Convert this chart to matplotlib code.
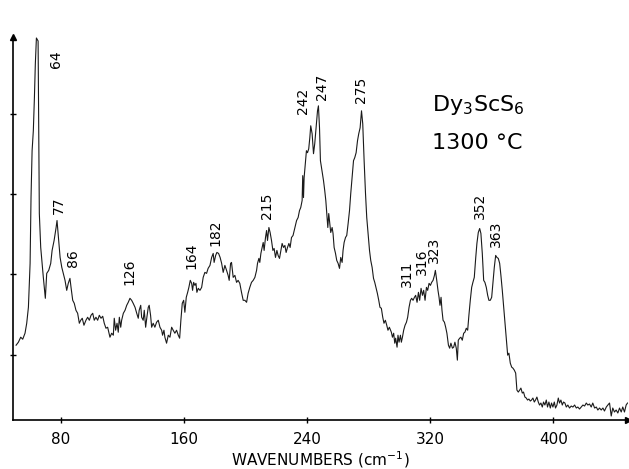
import matplotlib
matplotlib.use("Agg")
import matplotlib.pyplot as plt

# Raman spectrum (wavenumber in cm-1, intensity in arbitrary units)
wavenumber = [
    50.8, 52.3, 53.8, 55.1, 56.6, 57.7, 58.8, 59.9, 60.5, 61.2, 62.0, 62.7, 63.3, 64.0,
    65.1, 65.5, 65.9, 66.8, 67.7, 68.5, 69.8, 70.7, 72.0, 73.3, 74.2, 75.5, 76.8, 77.4,
    78.3, 79.4, 80.5, 81.5, 82.6, 83.7, 84.7, 85.8, 86.5, 87.6, 88.6, 89.7, 90.8, 91.9,
    92.8, 93.8, 94.9, 96.2, 97.3, 98.4, 99.5, 100.6, 101.6, 102.7, 103.8, 104.9, 106.0,
    107.1, 108.1, 109.2, 110.3,
    111.8, 112.9, 114.0, 114.6, 115.5, 116.4, 117.2, 117.9, 118.8, 119.4, 120.5, 121.6,
    122.7, 123.7, 124.8, 125.9, 126.9, 128.1, 129.2, 130.2, 130.8, 131.8, 132.4, 133.4,
    134.1, 135.0, 135.8, 136.7, 137.3, 138.2, 138.9, 139.9, 141.0, 142.1, 143.2, 144.3,
    145.4, 146.0, 146.9, 147.5, 148.6, 149.7, 150.8, 151.9, 152.9, 154.0, 155.1, 156.2,
    157.1, 157.9, 158.8, 159.7, 160.5, 161.4, 162.3, 163.1, 164.0, 164.9, 165.5, 166.2,
    167.0, 167.7, 168.3, 169.2, 170.3, 171.4, 172.4, 173.5, 174.6, 175.6, 176.8, 177.9,
    178.9, 179.5, 180.5, 181.3, 182.4, 183.4, 184.4, 185.4, 186.5, 187.6, 188.6, 189.3,
    190.2, 190.8, 191.9, 193.0, 194.1, 195.1, 196.2, 197.3, 198.4, 199.5, 200.6,
    201.6, 202.7, 203.8, 204.9, 206.0, 207.1, 207.7, 208.6, 209.2, 209.9, 210.7, 211.4,
    212.0, 212.9, 213.6, 214.2, 215.1, 215.9, 216.8, 217.7, 218.5, 219.4, 220.3, 221.1,
    222.0, 222.9, 223.7, 224.6, 225.5, 226.3, 227.2, 228.1, 228.9, 229.8, 230.8, 232.0,
    233.1, 234.1, 235.0, 235.8, 236.7, 237.1, 237.6, 238.0, 238.9, 239.5, 240.2, 241.0,
    241.7, 242.3, 243.2, 244.1, 244.9, 245.8, 246.7, 247.3, 248.0, 248.6, 249.3, 249.9,
    250.6, 251.4, 252.1, 252.7, 253.4, 254.0, 254.7, 255.3, 256.2, 256.8, 257.5, 258.4,
    259.2, 260.1, 261.0, 261.8, 262.7, 263.3, 264.0, 264.9, 265.7, 266.6, 267.5, 268.3,
    269.2, 270.1, 270.9, 271.8, 272.7, 273.5, 274.4, 275.3, 276.1, 277.0, 277.9, 278.7,
    279.6, 280.5, 281.3, 282.2, 283.1, 283.9, 284.7, 285.6, 286.5, 287.3, 288.2, 289.1,
    289.9, 290.8, 291.7, 292.5, 293.4,
    294.7, 295.4, 296.2, 296.9, 297.5, 298.4, 299.0, 299.7, 300.6, 301.2, 301.9, 302.7,
    303.6, 304.5, 305.3, 306.2, 307.1, 307.9, 308.8, 309.7, 310.5, 311.4, 312.3, 313.1,
    314.0, 314.9, 315.7, 316.6, 317.5, 318.3, 319.2, 320.1, 320.9, 321.8, 322.7, 323.3,
    324.2, 325.0, 325.7, 326.3, 327.0, 327.6, 328.3, 329.2, 330.0, 330.8, 331.8, 332.6,
    333.4, 334.4, 335.2, 336.0, 336.9, 337.6, 338.2, 339.1, 339.9, 340.8, 341.7, 342.5,
    343.4, 344.3, 345.1, 346.0, 346.9, 347.7, 348.6, 349.5, 350.3, 351.2, 352.1, 352.9,
    353.8, 354.7, 355.5, 356.4, 357.3, 358.1, 359.0, 359.9, 360.7, 361.6, 362.5, 363.3,
    364.2, 365.1, 365.9, 366.8, 367.7, 368.5, 369.4, 370.3, 371.1, 372.0, 372.9, 373.7,
    374.6,
    375.5, 376.3, 377.2, 378.1, 378.9, 379.8, 380.6, 381.5, 382.4, 383.2, 384.1, 385.0,
    385.8, 386.7, 387.6, 388.4, 389.3, 390.2, 391.0, 391.9, 392.8, 393.6, 394.5, 395.4,
    396.2, 397.1, 398.0, 398.8, 399.7, 400.6, 401.4, 402.3, 403.2, 404.0, 404.9, 405.8,
    406.6, 407.5, 408.4, 409.4, 410.5, 411.6, 412.7, 413.8, 414.9, 415.9, 417.0, 418.1,
    419.2, 420.3, 421.4, 422.4, 423.5, 424.6, 425.6, 426.8, 427.9, 428.9, 430.0, 431.1,
    432.2, 433.2, 434.4, 435.4, 436.5, 437.6, 438.6, 439.7, 440.8, 441.9, 443.0, 444.1,
    445.1, 446.2, 447.3, 448.2,
]
intensity = [
    75, 78, 83, 81, 87, 97, 113, 157, 223, 270, 290, 323, 357, 383,
    380, 290, 207, 173, 157, 143, 122, 147, 150, 157, 170, 180, 193, 200,
    183, 163, 153, 147, 140, 130, 137, 142, 133, 120, 117, 110, 107, 97,
    100, 102, 95, 100, 103, 100, 105, 107, 100, 103, 100, 105, 102,
    104, 97, 92, 93,
    83, 87, 85, 102, 90, 97, 88, 103, 93, 100, 107, 110,
    115, 118, 122, 120, 117, 113, 107, 102, 110, 115, 103, 100,
    110, 93, 103, 113, 115, 105, 93, 97, 93, 98, 100, 93,
    90, 85, 90, 83, 77, 85, 83, 93, 90, 87, 90, 85,
    82, 100, 117, 120, 108, 123, 128, 133, 140, 137, 130, 138,
    135, 137, 128, 132, 130, 133, 143, 148, 147, 152, 155, 163,
    167, 158, 165, 168, 167, 163, 157, 148, 155, 150, 145, 140,
    157, 158, 143, 145, 138, 140, 137, 128, 120, 120, 118,
    127, 133, 138, 140, 143, 150, 157, 162, 158, 167, 173, 178,
    170, 183, 190, 180, 193, 188, 180, 170, 172, 163, 170, 165,
    162, 170, 177, 173, 175, 168, 173, 177, 173, 183, 185, 193,
    200, 203, 210, 213, 220, 245, 223, 243, 260, 270, 268, 272,
    283, 295, 287, 267, 277, 293, 310, 315, 293, 260, 253, 247,
    240, 230, 220, 207, 193, 207, 197, 188, 193, 187, 173, 167,
    160, 157, 152, 163, 158, 170, 178, 183, 185, 197, 210, 227,
    243, 260, 263, 268, 280, 287, 293, 310, 297, 260, 227, 203,
    187, 170, 160, 153, 142, 138, 133, 127, 120, 113, 112, 103,
    97, 100, 95, 90, 93,
    88, 83, 87, 77, 82, 73, 85, 78, 85, 78, 83, 90,
    95, 98, 103, 113, 120, 122, 120, 123, 125, 118, 128, 120,
    132, 125, 130, 120, 133, 130, 137, 135, 138, 140, 145, 150,
    140, 130, 123, 115, 123, 110, 100, 98, 93, 87, 75, 72,
    77, 72, 73, 78, 72, 60, 80, 82, 83, 80, 87, 88,
    92, 90, 105, 120, 133, 138, 143, 162, 177, 188, 192, 187,
    167, 140, 138, 133, 125, 120, 120, 123, 137, 153, 165, 163,
    162, 157, 145, 130, 113, 97, 80, 65, 67, 57, 53, 52,
    50,
    47, 30, 28, 30, 32, 27, 28, 23, 22, 20, 21, 19,
    20, 22, 18, 20, 23, 18, 15, 17, 13, 18, 15, 20,
    13, 18, 12, 17, 13, 18, 12, 15, 22, 17, 20, 15,
    18, 17, 13, 15, 12, 14, 13, 15, 12, 13, 11, 13,
    15, 14, 17, 15, 16, 13, 17, 12, 13, 10, 12, 10,
    12, 9, 13, 15, 17, 4, 12, 8, 10, 7, 12, 8,
    13, 8, 15, 17,
]

# peak labels: text, x position, y of the label's lower end
peak_labels = ["64", "77", "86", "126", "164", "182", "215", "242", "247",
               "275", "311", "316", "323", "352", "363"]
label_x = [76.8, 78.7, 87.8, 124.2, 165.0, 180.6, 214.1, 237.1, 249.5,
           274.8, 305.0, 314.4, 322.5, 352.1, 362.5]
label_y = [353, 207, 153, 135, 151, 174, 202, 307, 321,
           318, 133, 145, 157, 202, 173]

xticks = [80, 160, 240, 320, 400]
yticks = [65, 146, 227, 307]

fig = plt.figure(figsize=(6.29, 4.69), dpi=100)
ax = fig.add_axes([0.0207, 0.1045, 0.9777, 0.8166])

ax.plot(wavenumber, intensity, color="#1a1a1a", lw=0.8)

for txt, lx, ly in zip(peak_labels, label_x, label_y):
    ax.text(lx, ly, txt, rotation=90, ha="center", va="bottom", fontsize=10)

ax.text(320.8, 310, r"Dy$_3$ScS$_6$", fontsize=16, ha="left", va="baseline")
ax.text(320.8, 272, "1300 °C", fontsize=16, ha="left", va="baseline")

ax.set_xlim(48.8, 448.5)
ax.set_ylim(0, 384)
ax.set_xticks(xticks)
ax.set_yticks(yticks)
ax.set_yticklabels([])
ax.tick_params(axis="x", direction="inout", length=5, width=1, labelsize=11, pad=6)
ax.tick_params(axis="y", direction="inout", length=5, width=1)
ax.set_xlabel("WAVENUMBERS (cm$^{-1}$)", fontsize=11, labelpad=2)

for side in ["top", "right"]:
    ax.spines[side].set_visible(False)
for side in ["left", "bottom"]:
    ax.spines[side].set_linewidth(1.2)

# arrow heads at the axis ends
ax.plot(0, 1, marker="^", color="black", ms=5, transform=ax.transAxes, clip_on=False)
ax.plot(1, 0, marker=">", color="black", ms=5, transform=ax.transAxes, clip_on=False)

fig.savefig("out.png", dpi=100)
